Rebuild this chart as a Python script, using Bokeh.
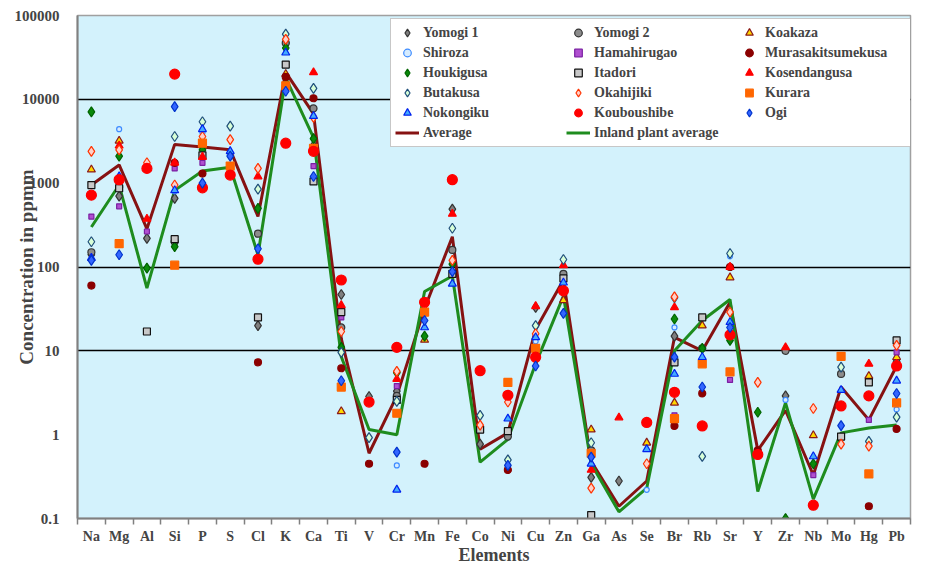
import numpy as np
from bokeh.plotting import figure
from bokeh.models import (FixedTicker, CustomJSTickFormatter, Legend, LegendItem,
                          ColumnDataSource)
from bokeh.embed import file_html
from bokeh.resources import INLINE

nan = np.nan

elements = ["Na", "Mg", "Al", "Si", "P", "S", "Cl", "K", "Ca", "Ti", "V", "Cr", "Mn", "Fe",
            "Co", "Ni", "Cu", "Zn", "Ga", "As", "Se", "Br", "Rb", "Sr", "Y", "Zr", "Nb",
            "Mo", "Hg", "Pb"]

average = [950, 1650, 285, 2900, 2700, 2500, 400, 21000, 6700, 14, 0.6, 2.9, 32, 230, 0.67,
           1.05, 18, 70, 0.48, 0.14, 0.28, 14.5, 10, 38, 0.65, 1.95, 0.33, 3.7, 1.5, 6.6]
inland_average = [300, 950, 56, 820, 1400, 1550, 140, 18000, 3500, 8.5, 1.15, 1.0, 51, 78,
                  0.47, 0.88, 7, 45, 0.45, 0.12, 0.23, 10, 23, 41, 0.21, 2.4, 0.17, 1.05,
                  1.2, 1.3]

yomogi1 = [140, 700, 220, 660, nan, nan, 20, 47000, 2800, 47, 2.85, 3.3, nan, 490, 0.77, nan,
           33, nan, 0.31, 0.28, nan, 15, nan, nan, nan, 2.9, nan, nan, nan, 7.5]
yomogi2 = [150, 900, nan, 200, nan, nan, 250, 47000, 7800, 19, nan, 2.9, nan, 160, nan, 0.95,
           nan, 83, 0.65, nan, nan, nan, 10.7, nan, nan, 10, nan, 5.3, nan, nan]
koakaza = [1450, 3200, nan, nan, nan, nan, nan, 20000, nan, 1.9, nan, nan, 13.5, nan, nan,
           nan, nan, 40, 1.15, nan, 0.8, 2.4, 20, 75, nan, nan, 0.98, nan, 5.0, 8.4]
shiroza = [nan, 4400, nan, 800, 4000, 2300, nan, nan, 6300, nan, nan, 0.43, nan, nan, nan,
           nan, 13, nan, nan, nan, 0.22, 19, nan, 134, nan, 2.6, nan, nan, nan, 2.0]
hamahirugao = [400, 530, 265, 1500, 1750, nan, nan, nan, 1600, 25, nan, 3.8, nan, nan, nan,
               nan, nan, nan, nan, nan, nan, 1.7, nan, 4.5, nan, nan, 0.33, nan, 1.5, 9.6]
murasakitsumekusa = [60, nan, nan, 1750, 1300, nan, 7.3, 18500, 10300, 6.2, 0.45, nan, 0.45,
                     nan, nan, 0.38, nan, nan, nan, nan, nan, 1.27, 3.1, 100, 0.65, nan, nan,
                     nan, 0.14, 1.17]
houkigusa = [7100, 2100, 97, 175, 2500, nan, 500, 41000, 3400, 11, nan, 5.5, 15, 108, nan, nan,
             nan, nan, nan, nan, nan, 24, 10.7, 13.3, 1.85, 0.1, 0.45, nan, nan, nan]
itadori = [950, 870, 17, 215, 2150, nan, 25, 26000, 1050, 29, nan, 2.6, nan, 83, 1.15, 1.1,
           nan, 73, 0.11, nan, nan, 7.3, 25, nan, nan, nan, nan, 0.95, 4.2, 13.3]
kosendangusa = [nan, 2800, 375, 1750, 2050, nan, 1200, nan, 21000, 35, nan, 4.6, 38, 430, nan,
                nan, 34, 105, 0.38, 1.6, nan, 33, nan, 100, nan, 11, nan, 2.2, 7.0, 7.0]
butakusa = [200, nan, nan, 3600, 5400, 4800, 850, 60000, 13500, 9.6, 0.92, 2.5, nan, 290, 1.7,
            0.5, 20, 123, 0.8, nan, nan, 43, 0.55, 145, nan, nan, nan, 6.4, 0.83, 1.62]
okahijiki = [2400, 2500, 1750, 950, 3600, 3300, 1500, 52000, 6100, 17, nan, 5.7, 35, 120, 1.3,
             2.45, 16, nan, 0.23, nan, 0.45, 44, nan, 29, 4.2, nan, 2.05, 0.77, 0.73, 11.6]
kurara = [nan, 190, nan, 105, 3000, 1600, nan, 14500, 2600, 3.7, nan, 1.8, 29, nan, nan, 4.2,
          10.7, nan, 0.6, nan, nan, 1.55, 7.0, 5.6, nan, nan, nan, 8.6, 0.34, 2.4]
nokongiku = [128, 1200, nan, 820, 4400, 2400, nan, 36000, 6300, nan, nan, 0.22, 19, 63, nan,
             1.55, 14.5, 65, 0.45, nan, 0.67, 5.3, 8.4, 22, nan, nan, 0.55, 3.4, nan, 4.4]
kouboushibe = [720, 1100, 1500, 20000, 880, 1250, 124, 3000, 2400, 70, 2.45, 11, 38, 1100, 5.8,
               2.95, 8.4, 52, nan, nan, 1.4, 3.2, 1.27, 15.5, 0.58, nan, 0.144, 2.2, 2.9, 6.6]
ogi = [120, 140, nan, 8200, 1000, 2100, 165, 12500, 1200, 4.4, nan, 0.62, 23, 88, nan, 0.43,
       6.6, 28, 0.54, nan, nan, 8.4, 3.7, 19, nan, nan, nan, 1.28, nan, 3.1]

species = [
    ("Yomogi 1", yomogi1, "diamond", "#7f7f7f", "#333333", 10),
    ("Yomogi 2", yomogi2, "circle", "#8c8c8c", "#333333", 7),
    ("Koakaza", koakaza, "triangle", "#ffd700", "#8b1a1a", 8),
    ("Shiroza", shiroza, "circle", "#d6ecff", "#3d8bff", 5),
    ("Hamahirugao", hamahirugao, "square", "#b04fd0", "#7a1fa2", 5),
    ("Murasakitsumekusa", murasakitsumekusa, "circle", "#8b0000", "#8b0000", 7),
    ("Houkigusa", houkigusa, "diamond", "#0a8a0a", "#006400", 10),
    ("Itadori", itadori, "square", "#c8c8c8", "#111111", 7),
    ("Kosendangusa", kosendangusa, "triangle", "#ff0000", "#ff0000", 8),
    ("Butakusa", butakusa, "diamond", "#d8ffd8", "#1f4e79", 10),
    ("Okahijiki", okahijiki, "diamond", "#ffd0c8", "#ff3300", 10),
    ("Kurara", kurara, "square", "#ff6600", "#ff6600", 8),
    ("Nokongiku", nokongiku, "triangle", "#44aaff", "#0022ee", 8),
    ("Kouboushibe", kouboushibe, "circle", "#ff0000", "#ff0000", 10),
    ("Ogi", ogi, "diamond", "#3366ff", "#0033cc", 10),
]

xs = list(range(len(elements)))

p = figure(width=912, height=567, y_axis_type="log", x_range=(-0.5, len(elements) - 0.5),
           y_range=(0.1, 100000), output_backend="svg", toolbar_location=None,
           min_border_left=77, min_border_right=2, min_border_top=15, min_border_bottom=44)
p.background_fill_color = "#d3f2fc"
p.border_fill_color = "white"
p.outline_line_color = "#a0a0a0"
p.outline_line_width = 1.5

r_avg = p.line(xs, average, line_color="#861212", line_width=3)
r_inl = p.line(xs, inland_average, line_color="#1e8c1e", line_width=3)

renderers = []
for name, vals, marker, fill, line, size in species:
    src = ColumnDataSource(dict(x=xs, y=vals))
    r = p.scatter("x", "y", source=src, marker=marker, size=size, fill_color=fill,
                  line_color=line, line_width=1.2)
    renderers.append((name, r))

# grid
p.xgrid.visible = False
p.ygrid.ticker = FixedTicker(ticks=[10, 100, 10000])
p.ygrid.grid_line_color = "black"
p.ygrid.grid_line_width = 1.5

serif = "Liberation Serif"

# y axis
p.yaxis.ticker = FixedTicker(ticks=[0.1, 1, 10, 100, 1000, 10000, 100000], minor_ticks=[])
p.yaxis.formatter = CustomJSTickFormatter(code="return tick >= 1 ? tick.toFixed(0) : tick.toString();")
p.yaxis.major_tick_line_color = None
p.yaxis.minor_tick_line_color = None
p.yaxis.axis_line_color = "#808080"
p.yaxis.axis_line_width = 2
p.yaxis.major_label_text_font = serif
p.yaxis.major_label_text_font_style = "bold"
p.yaxis.major_label_text_font_size = "15px"
p.yaxis.major_label_standoff = 12
p.yaxis.axis_label = "Concentration in ppmm"
p.yaxis.axis_label_text_font = serif
p.yaxis.axis_label_text_font_style = "bold"
p.yaxis.axis_label_text_font_size = "19px"
p.yaxis.axis_label_standoff = -25

# x axis
p.xaxis.ticker = FixedTicker(ticks=xs, minor_ticks=[i - 0.5 for i in range(len(elements) + 1)])
p.xaxis.formatter = CustomJSTickFormatter(args=dict(labels=elements),
    code="const i = Math.round(tick); return (i >= 0 && i < labels.length) ? labels[i] : '';")
p.xaxis.major_tick_line_color = None
p.xaxis.minor_tick_out = 6
p.xaxis.minor_tick_in = 0
p.xaxis.minor_tick_line_color = "#808080"
p.xaxis.minor_tick_line_width = 1.5
p.xaxis.axis_line_color = "#808080"
p.xaxis.axis_line_width = 2
p.xaxis.major_label_text_font = serif
p.xaxis.major_label_text_font_style = "bold"
p.xaxis.major_label_text_font_size = "14px"
p.xaxis.major_label_standoff = 4
p.xaxis.axis_label = "Elements"
p.xaxis.axis_label_text_font = serif
p.xaxis.axis_label_text_font_style = "bold"
p.xaxis.axis_label_text_font_size = "18px"
p.xaxis.axis_label_standoff = -2

items = [LegendItem(label=n, renderers=[r]) for n, r in renderers]
items.append(LegendItem(label="Average", renderers=[r_avg]))
items.append(LegendItem(label="Inland plant average", renderers=[r_inl]))

legend = Legend(items=items, location=(313, 371), orientation="horizontal", ncols=3)
legend.label_text_font = serif
legend.label_text_font_style = "bold"
legend.label_text_font_size = "14px"
legend.label_height = 19
legend.glyph_height = 19
legend.glyph_width = 24
legend.label_standoff = 4
legend.label_width = 142
legend.spacing = 1
legend.padding = 4
legend.margin = 0
legend.border_line_color = "#909090"
legend.border_line_width = 1
legend.background_fill_color = "white"
legend.background_fill_alpha = 1.0
p.add_layout(legend)

open("out.html", "w").write(file_html(p, INLINE))
